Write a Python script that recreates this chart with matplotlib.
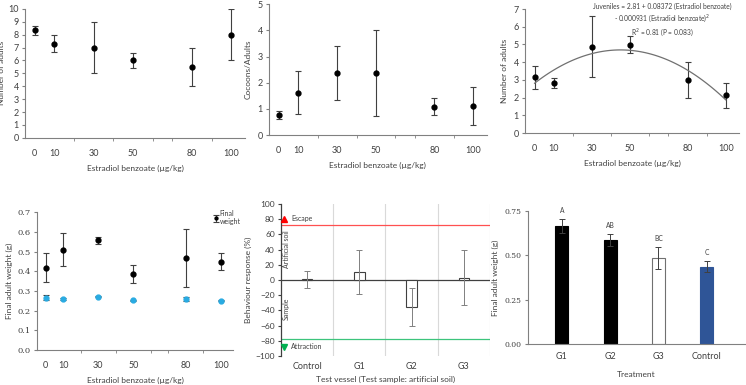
import matplotlib.pyplot as plt
import numpy as np

plt.rcParams['font.family'] = ['Lato', 'DejaVu Sans']
plt.rcParams['font.size'] = 6
plt.rcParams['xtick.labelsize'] = 6.5
plt.rcParams['ytick.labelsize'] = 6.5
plt.rcParams['text.color'] = '#404040'
plt.rcParams['axes.labelcolor'] = '#404040'
plt.rcParams['xtick.color'] = '#404040'
plt.rcParams['ytick.color'] = '#404040'

# doses shared by the dose-response panels
dose = [0, 10, 30, 50, 80, 100]
dose_labels = ['0', '10', '30', '50', '80', '100']

adults = [8.35, 7.3, 7.0, 6.0, 5.5, 8.0]
adults_err = [0.35, 0.65, 2.0, 0.6, 1.5, 2.0]

cocoons = [0.75, 1.62, 2.37, 2.37, 1.08, 1.1]
cocoons_lo = [0.15, 0.82, 1.04, 1.65, 0.33, 0.72]
cocoons_hi = [0.17, 0.83, 1.03, 1.65, 0.35, 0.72]

juv = [3.15, 2.8, 4.87, 4.97, 3.0, 2.12]
juv_err = [0.65, 0.28, 1.72, 0.48, 1.0, 0.71]
juv_fit = [-0.000931, 0.08372, 2.81]   # coefficients from the equation

wt = [0.418, 0.51, 0.558, 0.385, 0.468, 0.448]
wt_err = [0.073, 0.082, 0.018, 0.044, 0.147, 0.043]
wt0 = [0.265, 0.26, 0.27, 0.253, 0.26, 0.25]
wt0_err = [0.012, 0.005, 0.003, 0.003, 0.01, 0.003]

vessels = ['Control', 'G1', 'G2', 'G3']
behav = [1, 10, -36, 3]
behav_lo = [11, 29, 24, 36]
behav_hi = [11, 30, 25, 37]

treat = ['G1', 'G2', 'G3', 'Control']
fw = [0.665, 0.588, 0.483, 0.435]
fw_err = [0.04, 0.032, 0.062, 0.031]
fw_letters = ['A', 'AB', 'BC', 'C']
fw_colors = ['black', 'black', 'white', '#2f5597']

minor_dose = [20, 40, 60, 70, 90]
grey = '#808080'

fig = plt.figure(figsize=(7.46, 3.85), dpi=100)


def dose_axes(rect):
    ax = fig.add_axes(rect)
    for s in ['top', 'right']:
        ax.spines[s].set_visible(False)
    for s in ['left', 'bottom']:
        ax.spines[s].set_color(grey)
        ax.spines[s].set_linewidth(0.8)
    ax.set_xlim(-5, 107)
    ax.set_xticks(dose)
    ax.set_xticklabels(dose_labels)
    ax.set_xticks(minor_dose, minor=True)
    ax.tick_params(axis='x', which='major', length=0, pad=8)
    ax.tick_params(axis='x', which='minor', length=2.5, color=grey)
    ax.tick_params(axis='y', length=2.5, color=grey, pad=2)
    ax.set_xlabel('Estradiol benzoate (µg/kg)', labelpad=5)
    return ax


# panel 1
ax1 = dose_axes([0.0335, 0.642, 0.295, 0.335])
ax1.errorbar(dose, adults, yerr=adults_err, fmt='o', color='black', ms=3.5,
             ecolor='#404040', elinewidth=0.8, capsize=2, capthick=0.8)
ax1.set_ylim(0, 10)
ax1.set_yticks(range(0, 11))
ax1.set_ylabel('Number of adults', labelpad=2)

# panel 2
ax2 = dose_axes([0.3606, 0.649, 0.292, 0.340])
ax2.errorbar(dose, cocoons, yerr=[cocoons_lo, cocoons_hi], fmt='o', color='black',
             ms=3.5, ecolor='#404040', elinewidth=0.8, capsize=2, capthick=0.8)
ax2.set_ylim(0, 5)
ax2.set_yticks(range(0, 6))
ax2.set_ylabel('Cocoons/Adults', labelpad=4)

# panel 3
ax3 = dose_axes([0.7038, 0.6545, 0.287, 0.322])
ax3.errorbar(dose, juv, yerr=juv_err, fmt='o', color='black', ms=3.5,
             ecolor='#404040', elinewidth=0.8, capsize=2, capthick=0.8)
xs = np.linspace(0, 100, 101)
ax3.plot(xs, np.polyval(juv_fit, xs), color='#707070', lw=0.9)
ax3.set_ylim(0, 7)
ax3.set_yticks(range(0, 8))
ax3.set_ylabel('Number of adults', labelpad=4)
ax3.text(0.64, 1.05, 'Juveniles = 2.81 + 0.08372 (Estradiol benzoate)\n'
         '- 0.000931 (Estradiol benzoate)$^2$\nR$^2$ = 0.81 (P = 0.083)',
         transform=ax3.transAxes, ha='center', va='top', fontsize=4.8,
         linespacing=1.35)

# panel 4
ax4 = dose_axes([0.0496, 0.091, 0.263, 0.358])
ax4.errorbar(dose, wt, yerr=wt_err, fmt='o', color='black', ms=3.5,
             ecolor='#404040', elinewidth=0.8, capsize=2, capthick=0.8,
             label='Final\nweight')
ax4.errorbar(dose, wt0, yerr=wt0_err, fmt='o', color='#29abe2', ms=3.5,
             ecolor='#404040', elinewidth=0.8, capsize=2, capthick=0.8)
ax4.set_ylim(0, 0.7)
ax4.set_yticks(np.arange(0, 0.71, 0.1))
ax4.set_yticklabels(['%.1f' % v for v in np.arange(0, 0.71, 0.1)],
                    family='DejaVu Serif', fontsize=6)
ax4.set_ylabel('Final adult weight (g)', labelpad=3)
ax4.legend(loc='upper right', bbox_to_anchor=(1.07, 1.06), frameon=False,
           handletextpad=0.1, markerscale=0.6, fontsize=5, handlelength=0.8)

# panel 5
ax5 = fig.add_axes([0.3767, 0.0753, 0.280, 0.395])
xpos = np.arange(len(vessels)) + 0.5
ax5.bar(xpos, behav, width=0.2, color='white', edgecolor='#404040', lw=0.8,
        zorder=3)
ax5.errorbar(xpos, behav, yerr=[behav_lo, behav_hi], fmt='none',
             ecolor='#808080', elinewidth=0.7, capsize=2, capthick=0.7,
             zorder=4)
ax5.axhline(0, color='#404040', lw=0.9, zorder=2)
ax5.axhline(72, color='#ff5050', lw=0.9, zorder=2)
ax5.axhline(-77, color='#3cc47c', lw=0.9, zorder=2)
ax5.set_xlim(0, 4)
ax5.set_ylim(-100, 100)
ax5.set_yticks(range(-100, 101, 20))
ax5.set_xticks(xpos)
ax5.set_xticklabels(vessels)
ax5.set_xticks([1, 2, 3, 4], minor=True)
ax5.grid(axis='x', which='minor', color='#d9d9d9', lw=0.8)
ax5.tick_params(axis='x', which='both', length=0, pad=4)
ax5.tick_params(axis='y', length=2.5, color='#404040', pad=2, labelsize=6)
for s in ['top', 'right', 'bottom']:
    ax5.spines[s].set_visible(False)
ax5.spines['left'].set_color('#404040')
ax5.spines['left'].set_linewidth(0.9)
ax5.plot([0.05], [80], marker='^', color='red', ms=4, clip_on=False, zorder=5)
ax5.plot([0.05], [-88], marker='v', color='#00b050', ms=4, clip_on=False,
         zorder=5)
ax5.text(0.2, 81, 'Escape', va='center', fontsize=5)
ax5.text(0.2, -87, 'Attraction', va='center', fontsize=5)
ax5.text(0.1, 40, 'Artificial soil', rotation=90, ha='center', va='center',
         fontsize=5)
ax5.text(0.1, -38, 'Sample', rotation=90, ha='center', va='center', fontsize=5)
ax5.set_ylabel('Behaviour response (%)', labelpad=2)
ax5.set_xlabel('Test vessel (Test sample: artificial soil)', labelpad=4)

# panel 6
ax6 = fig.add_axes([0.7078, 0.1065, 0.291, 0.345])
tpos = np.arange(len(treat))
ax6.bar(tpos, fw, width=0.27, color=fw_colors, edgecolor=['black', 'black',
        '#707070', '#2f5597'], lw=0.8)
ax6.errorbar(tpos, fw, yerr=fw_err, fmt='none', ecolor='#404040',
             elinewidth=0.7, capsize=2, capthick=0.7)
for x, y, e, t in zip(tpos, fw, fw_err, fw_letters):
    ax6.text(x, y + e + 0.03, t, ha='center', va='bottom', fontsize=4.8)
ax6.set_xlim(-0.7, 3.8)
ax6.set_ylim(0, 0.75)
ax6.set_yticks([0, 0.25, 0.5, 0.75])
ax6.set_yticklabels(['0.00', '0.25', '0.50', '0.75'], family='DejaVu Serif',
                    fontsize=5.5)
ax6.set_xticks(tpos)
ax6.set_xticklabels(treat)
ax6.tick_params(axis='x', length=0, pad=6)
ax6.tick_params(axis='y', length=2.5, color=grey, pad=2)
for s in ['top', 'right']:
    ax6.spines[s].set_visible(False)
for s in ['left', 'bottom']:
    ax6.spines[s].set_color(grey)
    ax6.spines[s].set_linewidth(0.8)
ax6.set_ylabel('Final adult weight (g)', labelpad=4)
ax6.set_xlabel('Treatment', labelpad=7)

fig.savefig('out.png', dpi=100)
